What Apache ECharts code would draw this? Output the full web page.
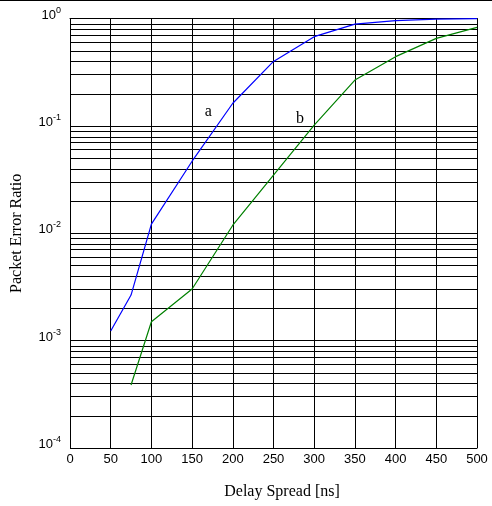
<!DOCTYPE html>
<html>
<head>
<meta charset="utf-8">
<script src="https://cdn.jsdelivr.net/npm/echarts@6/dist/echarts.min.js"></script>
<style>html,body{margin:0;padding:0;background:#fff}#c{width:492px;height:506px}</style>
</head>
<body>
<div id="c"></div>
<script>
const delaySpreadA = [50, 75, 100, 150, 200, 250, 300, 350, 400, 450, 500];
const perA = [1.23e-3, 2.66e-3, 0.0122, 0.047, 0.163, 0.40, 0.68, 0.89, 0.96, 0.99, 1.0];
const delaySpreadB = [75, 100, 150, 200, 250, 300, 350, 400, 450, 500];
const perB = [3.86e-4, 1.5e-3, 3.03e-3, 0.0119, 0.0348, 0.102, 0.268, 0.443, 0.656, 0.83];
const decadeExponents = [-4, -3, -2, -1];
const minorMultipliers = [2, 3, 4, 5, 6, 7, 8, 9];
const labelA = { text: 'a', x: 170, y: 0.136 };
const labelB = { text: 'b', x: 282.6, y: 0.118 };

// minor grid positions expressed as log10 values on a helper linear axis
const minorGrid = [];
decadeExponents.forEach(e => minorMultipliers.forEach(m => minorGrid.push({ yAxis: e + Math.log10(m) })));

const chart = echarts.init(document.getElementById('c'), null, { renderer: 'canvas' });
const serif = '"Liberation Serif", "Times New Roman", serif';
const sans = '"Liberation Sans", Arial, sans-serif';

chart.setOption({
  animation: false,
  backgroundColor: '#fff',
  grid: { left: 70, right: 15, top: 18.7, bottom: 58 },
  graphic: [
    { type: 'line', shape: { x1: 0, y1: 0.5, x2: 492, y2: 0.5 }, style: { stroke: '#000', lineWidth: 1 } }
  ],
  xAxis: {
    type: 'value', min: 0, max: 500, interval: 50,
    name: 'Delay Spread [ns]', nameLocation: 'middle', nameGap: 36,
    nameTextStyle: { fontFamily: serif, fontSize: 16, color: '#000', padding: [0, 0, 0, 17] },
    axisLine: { lineStyle: { color: '#000', width: 1 } },
    axisTick: { show: false },
    axisLabel: { color: '#000', fontFamily: sans, fontSize: 13, margin: 5 },
    splitLine: { show: true, lineStyle: { color: '#000', width: 1 } }
  },
  yAxis: [
    {
      type: 'log', logBase: 10, min: 1e-4, max: 1,
      name: 'Packet Error Ratio', nameLocation: 'middle', nameGap: 45,
      nameTextStyle: { fontFamily: serif, fontSize: 16, color: '#000' },
      axisLine: { lineStyle: { color: '#000', width: 1 } },
      axisTick: { show: false },
      axisLabel: {
        color: '#000', margin: 9,
        formatter: v => '{b|10}{s|' + Math.round(Math.log10(v)) + '}',
        rich: {
          b: { fontFamily: sans, fontSize: 13, verticalAlign: 'bottom', color: '#000' },
          s: { fontFamily: sans, fontSize: 9, verticalAlign: 'bottom', padding: [0, 0, 7, 0], color: '#000' }
        },
        padding: [0, 0, 10, 0]
      },
      splitLine: { show: true, lineStyle: { color: '#000', width: 1 } }
    },
    {
      type: 'value', min: -4, max: 0, position: 'right',
      axisLine: { show: true, lineStyle: { color: '#000', width: 1 } },
      axisTick: { show: false }, axisLabel: { show: false }, splitLine: { show: false }
    }
  ],
  series: [
    {
      type: 'line', yAxisIndex: 1, data: [], symbol: 'none', silent: true,
      markLine: {
        silent: true, symbol: 'none', label: { show: false }, animation: false,
        lineStyle: { color: '#000', width: 1, type: 'solid' },
        data: minorGrid
      }
    },
    {
      type: 'line', data: delaySpreadA.map((x, i) => [x, perA[i]]),
      symbol: 'none', lineStyle: { color: '#0000ff', width: 1.2 }, itemStyle: { color: '#0000ff' },
      z: 5,
      markPoint: {
        symbol: 'circle', symbolSize: 0, silent: true,
        label: { show: true, formatter: labelA.text, fontFamily: serif, fontSize: 16, color: '#000' },
        data: [{ coord: [labelA.x, labelA.y] }]
      }
    },
    {
      type: 'line', data: delaySpreadB.map((x, i) => [x, perB[i]]),
      symbol: 'none', lineStyle: { color: '#008000', width: 1.2 }, itemStyle: { color: '#008000' },
      z: 5,
      markPoint: {
        symbol: 'circle', symbolSize: 0, silent: true,
        label: { show: true, formatter: labelB.text, fontFamily: serif, fontSize: 16, color: '#000' },
        data: [{ coord: [labelB.x, labelB.y] }]
      }
    }
  ]
});
</script>
</body>
</html>
